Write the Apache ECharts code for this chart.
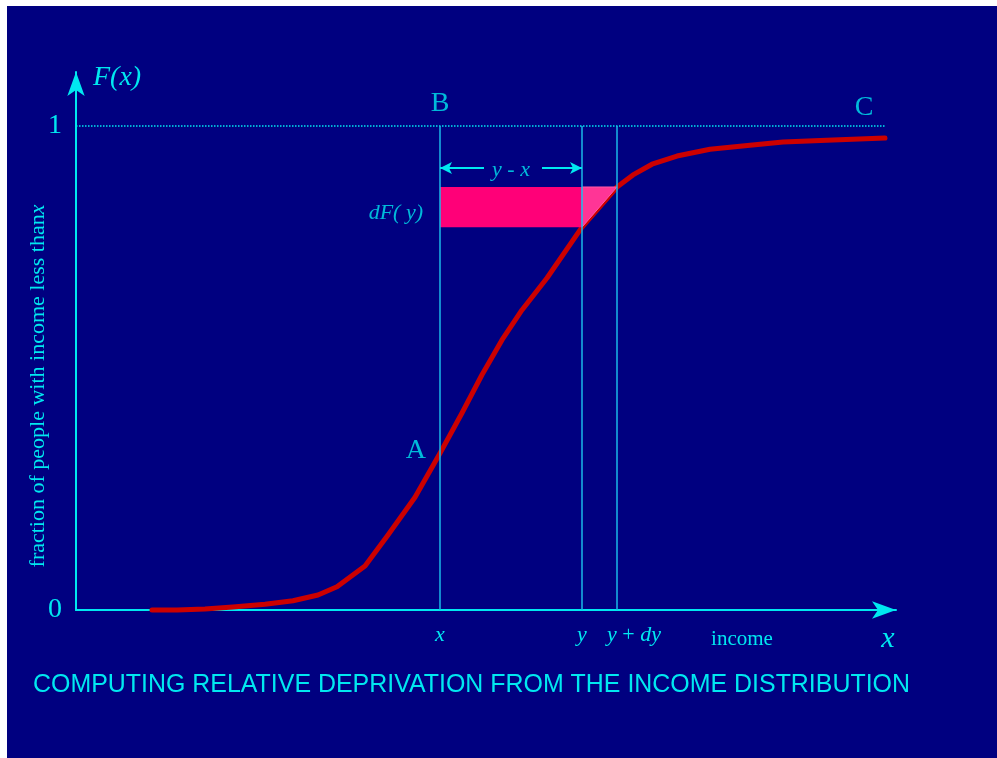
<!DOCTYPE html>
<html><head><meta charset="utf-8">
<script src="https://cdn.jsdelivr.net/npm/echarts@6/dist/echarts.min.js"></script>
<style>
html,body{margin:0;padding:0;background:#ffffff;}
#c{position:absolute;left:7px;top:6px;width:990px;height:752px;background:#000080;}
</style></head><body><div id="c"></div>
<script>
// Income (x) and cumulative fraction F(x) of the distribution curve
const incomeX = [7.6,10.1,12.9,15.7,18.9,21.7,24.2,26.1,28.9,31.2,33.9,36.4,38.6,40.6,42.6,44.6,47.1,50.6,54.1,55.7,57.6,60.1,63.4,66.9,70.7,75.7,80.9];
const cdfF    = [0,0,0.002,0.006,0.012,0.019,0.031,0.048,0.091,0.155,0.233,0.324,0.407,0.486,0.558,0.620,0.686,0.791,0.874,0.899,0.921,0.938,0.952,0.959,0.967,0.971,0.975];
// marked incomes on the x axis: x, y, y + dy
const markIncome = [36.4, 50.6, 54.1];
const markLabels = ['{i|x}', '{i|y}', '{p|y} + {i|dy}'];
const markF = [0.324, 0.791, 0.874];
// y axis ticks
const yTicks = [0, 1];
const yTickLabels = ['0', '1'];
// extent of the dotted F = 1 line and of the "C" point
const incomeEnd = 80.9;
const pointC = 78.8;
// gap in the y - x dimension arrow
const gapFrom = 40.8, gapTo = 46.6;
const dimLevel = 0.913;

const CYAN = '#00e8f0';
const VLINE = '#1ab8e8';
const SERIF = '"Liberation Serif", "Times New Roman", serif';

const chart = echarts.init(document.getElementById('c'));
const curve = incomeX.map((x, i) => [x, cdfF[i]]);

const option = {
  backgroundColor: '#000080',
  animation: false,
  grid: { left: 69, top: 66, width: 820, height: 538, containLabel: false },
  xAxis: {
    type: 'value', min: 0, max: 82,
    axisLine: { show: true, onZero: false, symbol: ['none', 'arrow'], symbolSize: [13, 24],
      lineStyle: { color: CYAN, width: 2 } },
    axisTick: { show: false },
    splitLine: { show: false },
    axisLabel: {
      customValues: markIncome,
      margin: 14,
      color: CYAN, fontFamily: SERIF, fontSize: 22,
      formatter: v => { const k = markIncome.findIndex(m => Math.abs(m - v) < 1e-6); return k >= 0 ? markLabels[k] : ''; },
      rich: {
        i: { fontStyle: 'italic', fontFamily: SERIF, fontSize: 22, color: CYAN },
        p: { fontStyle: 'italic', fontFamily: SERIF, fontSize: 22, color: CYAN, padding: [0, 0, 0, 34] }
      }
    }
  },
  yAxis: {
    type: 'value', min: 0, max: 1.1116,
    axisLine: { show: true, symbol: ['none', 'arrow'], symbolSize: [13, 24],
      lineStyle: { color: CYAN, width: 2 } },
    axisTick: { show: false },
    splitLine: { show: false },
    axisLabel: {
      customValues: yTicks,
      margin: 14,
      color: CYAN, fontFamily: SERIF, fontSize: 28,
      formatter: v => { const k = yTicks.findIndex(m => Math.abs(m - v) < 1e-6); return k >= 0 ? yTickLabels[k] : ''; }
    }
  },
  graphic: [
    { type: 'text', x: 86, y: 72, z: 10,
      style: { text: 'F(x)', fill: CYAN, fontFamily: SERIF, fontSize: 28, fontStyle: 'italic',
        align: 'left', verticalAlign: 'middle', textAlign: 'left', textVerticalAlign: 'middle' } },
    { type: 'text', x: 31, y: 380, rotation: Math.PI / 2, z: 10,
      style: { text: 'fraction of people with income less than{i|x}', fill: CYAN, fontFamily: SERIF, fontSize: 22,
        align: 'center', verticalAlign: 'middle', textAlign: 'center', textVerticalAlign: 'middle',
        rich: { i: { fontStyle: 'italic', fontFamily: SERIF, fontSize: 22, fill: CYAN, color: CYAN } } } },
    { type: 'text', x: 735, y: 633, z: 10,
      style: { text: 'income', fill: CYAN, fontFamily: SERIF, fontSize: 21,
        align: 'center', verticalAlign: 'middle', textAlign: 'center', textVerticalAlign: 'middle' } },
    { type: 'text', x: 881, y: 633, z: 10,
      style: { text: 'x', fill: CYAN, fontFamily: SERIF, fontSize: 30, fontStyle: 'italic',
        align: 'center', verticalAlign: 'middle', textAlign: 'center', textVerticalAlign: 'middle' } },
    { type: 'text', x: 26, y: 679, z: 10,
      style: { text: 'COMPUTING RELATIVE DEPRIVATION FROM THE INCOME DISTRIBUTION', fill: CYAN,
        fontFamily: '"Liberation Sans", Arial, sans-serif', fontSize: 24.95,
        align: 'left', verticalAlign: 'middle', textAlign: 'left', textVerticalAlign: 'middle' } }
  ],
  series: [
    {
      name: 'F', type: 'line', data: curve, showSymbol: false, clip: false, z: 2,
      lineStyle: { color: '#cc0000', width: 5, cap: 'round', join: 'round' }
    },
    {
      name: 'one', type: 'line', data: [[0, 1], [incomeEnd, 1]], showSymbol: false, clip: false, z: 3,
      lineStyle: { color: CYAN, width: 1.5, type: [1.5, 1.5] }
    },
    {
      name: 'guides', type: 'line', data: [], z: 3,
      markLine: {
        silent: true, symbol: ['none', 'none'], label: { show: false }, animation: false,
        lineStyle: { color: VLINE, width: 1.5, type: 'solid' },
        data: markIncome.map(m => [{ coord: [m, 0] }, { coord: [m, 1] }])
      }
    },
    {
      name: 'dim', type: 'line', data: [], z: 5,
      markLine: {
        silent: true, label: { show: false }, animation: false, symbolSize: [9, 12],
        lineStyle: { color: CYAN, width: 2, type: 'solid' },
        data: [
          [{ coord: [markIncome[0], dimLevel], symbol: 'arrow' }, { coord: [gapFrom, dimLevel], symbol: 'none' }],
          [{ coord: [gapTo, dimLevel], symbol: 'none' }, { coord: [markIncome[1], dimLevel], symbol: 'arrow' }]
        ]
      }
    },
    {
      name: 'dF', type: 'custom', coordinateSystem: 'cartesian2d', z: 4, clip: false,
      data: [[markIncome[0], markIncome[1], markF[1], markF[2]]],
      renderItem: (params, api) => {
        const x0 = api.value(0), x1 = api.value(1), f0 = api.value(2), f1 = api.value(3);
        const tl = api.coord([x0, f1]), br = api.coord([x1, f0]);
        const tr2 = api.coord([markIncome[2], f1]);
        return { type: 'group', children: [
          { type: 'rect', shape: { x: tl[0], y: tl[1], width: br[0] - tl[0], height: br[1] - tl[1] },
            style: { fill: '#ff0078' } },
          { type: 'polygon', shape: { points: [[br[0], tl[1]], tr2, [br[0], br[1]]] },
            style: { fill: '#ff3596', stroke: '#ff5aa8', lineWidth: 1 } }
        ] };
      }
    },
    {
      name: 'labels', type: 'scatter', symbolSize: 0, z: 6, clip: false,
      label: { show: true, color: CYAN, fontFamily: SERIF, fontSize: 28,
        formatter: p => p.data.text,
        rich: { i: { fontStyle: 'italic', fontFamily: SERIF, fontSize: 22, color: CYAN } } },
      data: [
        { value: [markIncome[0], markF[0]], text: 'A', label: { position: 'left', distance: 14, offset: [0, -3] } },
        { value: [markIncome[0], 1], text: 'B', label: { position: 'top', distance: 8 } },
        { value: [pointC, 1], text: 'C', label: { position: 'top', distance: 4 } },
        { value: [markIncome[0], (markF[1] + markF[2]) / 2], text: '{i|dF( y)}', label: { position: 'left', distance: 17, offset: [0, 6] } },
        { value: [(markIncome[0] + markIncome[1]) / 2, dimLevel], text: '{i|y - x}', label: { position: 'inside', offset: [0, 2] } }
      ]
    }
  ]
};
chart.setOption(option);
</script></body></html>
